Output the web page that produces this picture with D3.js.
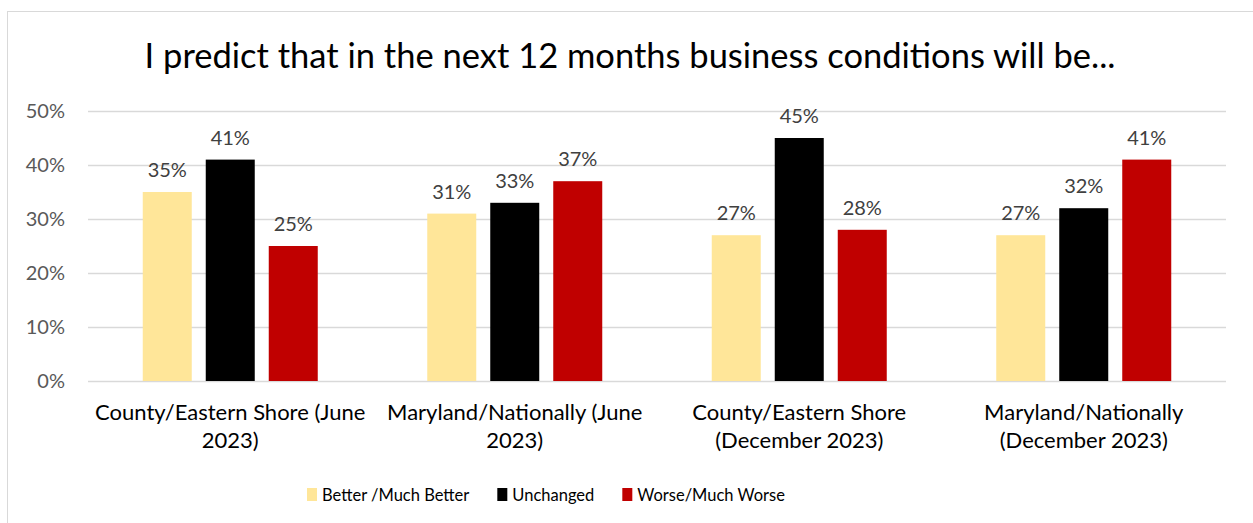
<!DOCTYPE html>
<html>
<head>
<meta charset="utf-8">
<script src="https://cdn.jsdelivr.net/npm/d3@7"></script>
<style>
  html, body { margin: 0; padding: 0; background: #fff; }
  svg text { font-family: Lato, "Noto Sans", sans-serif; }
</style>
</head>
<body>
<svg id="chart" width="1253" height="523"></svg>
<script>
const categories = [
  ['County/Eastern Shore (June', '2023)'],
  ['Maryland/Nationally (June', '2023)'],
  ['County/Eastern Shore', '(December 2023)'],
  ['Maryland/Nationally', '(December 2023)']
];
const series = ['Better /Much Better', 'Unchanged', 'Worse/Much Worse'];
const betterValues = [0.35, 0.31, 0.27, 0.27];
const unchangedValues = [0.41, 0.33, 0.45, 0.32];
const worseValues = [0.25, 0.37, 0.28, 0.41];
const yTicks = [0, 0.1, 0.2, 0.3, 0.4, 0.5];
const colors = ['#FFE699', '#000000', '#C00000'];

const seriesValues = [betterValues, unchangedValues, worseValues];
const svg = d3.select('#chart');

// outer chart border
svg.append('rect')
  .attr('x', 7.5).attr('y', 11.5)
  .attr('width', 1300).attr('height', 600)
  .attr('fill', 'none').attr('stroke', '#D9D9D9').attr('stroke-width', 1);

svg.append('text')
  .attr('x', 630).attr('y', 68)
  .attr('text-anchor', 'middle')
  .attr('font-size', 34.5)
  .attr('fill', '#000')
  .text('I predict that in the next 12 months business conditions will be...');

const x = d3.scaleBand()
  .domain(d3.range(categories.length))
  .range([88, 1226]);
const bw = x.bandwidth();
const xi = d3.scaleBand()
  .domain(series)
  .range([(bw - 189) / 2, (bw + 189) / 2])
  .paddingInner(14 / 63)
  .paddingOuter(7 / 63);
const y = d3.scaleLinear().domain([0, 0.5]).range([381, 111]);

// gridlines
svg.append('g')
  .selectAll('line')
  .data(yTicks)
  .join('line')
    .attr('x1', 88).attr('x2', 1226)
    .attr('y1', d => Math.round(y(d)) + 0.5)
    .attr('y2', d => Math.round(y(d)) + 0.5)
    .attr('stroke', '#D9D9D9').attr('stroke-width', 1.5);

// y axis labels
const yAxis = svg.append('g')
  .attr('transform', 'translate(88,0)')
  .call(d3.axisLeft(y).tickValues(yTicks).tickFormat(d3.format('.0%')).tickSize(0).tickPadding(23));
yAxis.select('.domain').remove();
yAxis.selectAll('text')
  .attr('font-size', 20)
  .attr('font-family', 'Lato, "Noto Sans", sans-serif')
  .attr('fill', '#595959');

// bars
const groups = svg.append('g')
  .selectAll('g')
  .data(categories)
  .join('g')
    .attr('transform', (d, i) => `translate(${x(i)},0)`);

groups.selectAll('rect')
  .data((d, i) => series.map((s, k) => ({ s, k, v: seriesValues[k][i] })))
  .join('rect')
    .attr('x', d => xi(d.s))
    .attr('width', xi.bandwidth())
    .attr('y', d => y(d.v))
    .attr('height', d => y(0) - y(d.v))
    .attr('fill', d => colors[d.k]);

groups.selectAll('text.val')
  .data((d, i) => series.map((s, k) => ({ s, k, v: seriesValues[k][i] })))
  .join('text')
    .attr('class', 'val')
    .attr('x', d => xi(d.s) + xi.bandwidth() / 2)
    .attr('y', d => y(d.v) - 15)
    .attr('text-anchor', 'middle')
    .attr('font-size', 20)
    .attr('fill', '#404040')
    .text(d => d3.format('.0%')(d.v));

// category labels
groups.append('text')
  .attr('x', bw / 2)
  .attr('text-anchor', 'middle')
  .attr('font-size', 22)
  .attr('fill', '#000')
  .selectAll('tspan')
  .data(d => d)
  .join('tspan')
    .attr('x', bw / 2)
    .attr('y', (d, i) => 420 + i * 28)
    .text(d => d);

// legend
const legend = svg.append('g').attr('transform', 'translate(307,0)');
let lx = 0;
series.forEach((s, k) => {
  legend.append('rect')
    .attr('x', lx).attr('y', 488)
    .attr('width', 10).attr('height', 13)
    .attr('fill', colors[k]);
  const t = legend.append('text')
    .attr('x', lx + 15).attr('y', 501)
    .attr('font-size', 16.5)
    .attr('fill', '#000')
    .text(s);
  lx += 15 + t.node().getComputedTextLength() + 28;
});
</script>
</body>
</html>
